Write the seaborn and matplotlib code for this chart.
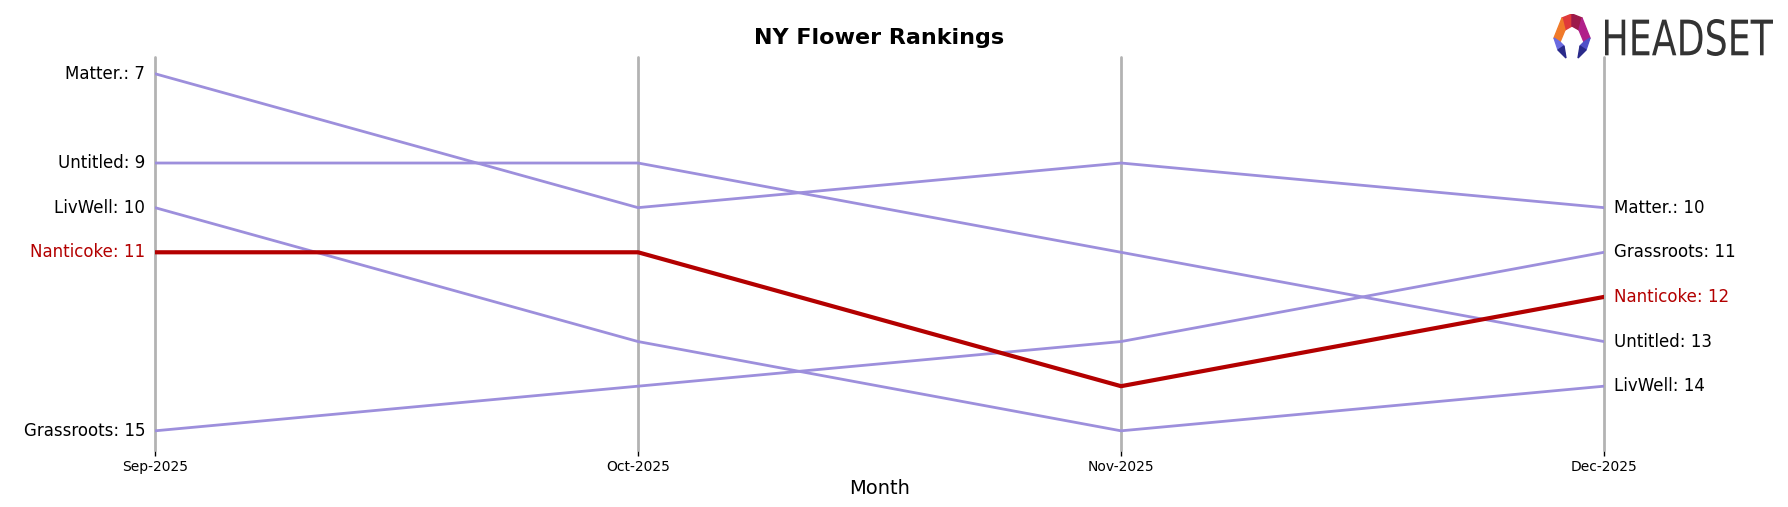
import numpy as np
import pandas as pd
import seaborn as sns
import matplotlib
matplotlib.use("Agg")
from matplotlib import pyplot as plt
from matplotlib.patches import Polygon, PathPatch
from matplotlib.textpath import TextPath
from matplotlib.font_manager import FontProperties
from matplotlib.transforms import Affine2D

# data
months = ["Sep-2025", "Oct-2025", "Nov-2025", "Dec-2025"]
brands = ["Matter.", "Untitled", "LivWell", "Nanticoke", "Grassroots"]
matter = [7, 10, 9, 10]
untitled = [9, 9, 11, 13]
livwell = [10, 13, 15, 14]
nanticoke = [11, 11, 14, 12]
grassroots = [15, 14, 13, 11]
highlight = "Nanticoke"

ranks = {"Matter.": matter, "Untitled": untitled, "LivWell": livwell,
         "Nanticoke": nanticoke, "Grassroots": grassroots}
rows = []
for b in brands:
    for i, m in enumerate(months):
        rows.append({"Brand": b, "Month": i, "Rank": ranks[b][i]})
df = pd.DataFrame(rows)

sns.set_style("white")
plt.rcParams["text.color"] = "black"
plt.rcParams["axes.labelcolor"] = "black"
plt.rcParams["xtick.color"] = "black"
fig = plt.figure(figsize=(17.88, 5.07), dpi=100)
ax = fig.add_axes([0.0867, 0.1124, 0.8104, 0.7756])

purple = "#9d8fdc"
red = "#b30000"
palette = {b: (red if b == highlight else purple) for b in brands}

for b in brands:
    sub = df[df.Brand == b]
    sns.lineplot(data=sub, x="Month", y="Rank", color=palette[b],
                 linewidth=3 if b == highlight else 2,
                 zorder=3 if b == highlight else 2, ax=ax, legend=False)

for i in range(len(months)):
    ax.axvline(i, color="#b3b3b3", linewidth=2, zorder=1, clip_on=False)

ax.set_xlim(0, 3)
ax.set_ylim(15.43, 6.62)
ax.set_xticks(range(len(months)))
ax.set_xticklabels(months, fontsize=10)
ax.tick_params(axis="x", length=4, width=1, color="black", direction="out", bottom=True)
ax.set_yticks([])
ax.set_ylabel("")
ax.set_xlabel("Month", fontsize=14, labelpad=3)
for s in ax.spines.values():
    s.set_visible(False)

for b in brands:
    c = red if b == highlight else "black"
    ax.annotate(f"{b}: {ranks[b][0]}", (0, ranks[b][0]), xytext=(-7, 0),
                textcoords="offset points", ha="right", va="center",
                fontsize=12, color=c)
    ax.annotate(f"{b}: {ranks[b][-1]}", (3, ranks[b][-1]), xytext=(7, 0),
                textcoords="offset points", ha="left", va="center",
                fontsize=12, color=c)

ax.set_title("NY Flower Rankings", fontsize=16, fontweight="bold", pad=9,
             color="black")

# logo icon
lax = fig.add_axes([1548 / 1788, 1 - 60 / 507, 48 / 1788, 46 / 507])
lax.set_xlim(0, 48)
lax.set_ylim(46, 0)
lax.axis("off")
polys = [
    ([(14, 4), (24, 0), (24, 12), (17, 16)], "#e03a3a"),
    ([(24, 0), (34, 4), (31, 16), (24, 12)], "#9c1a4a"),
    ([(14, 4), (17, 16), (12, 28), (6, 24)], "#f07a2a"),
    ([(34, 4), (42, 24), (36, 28), (31, 16)], "#b0208a"),
    ([(6, 24), (12, 28), (16, 32), (10, 36)], "#6a6ae0"),
    ([(42, 24), (36, 28), (32, 32), (38, 36)], "#5050c8"),
    ([(10, 36), (16, 32), (18, 44)], "#2a2a8a"),
    ([(38, 36), (32, 32), (30, 44)], "#2a2a8a"),
]
for pts, col in polys:
    lax.add_patch(Polygon(pts, closed=True, color=col))

# logo word, squeezed to a condensed look
tax = fig.add_axes([1604 / 1788, 1 - 57 / 507, 170 / 1788, 39 / 507])
tax.set_xlim(0, 170)
tax.set_ylim(0, 39)
tax.axis("off")
tp = TextPath((0, 0), "HEADSET", size=1, prop=FontProperties(family="DejaVu Sans"))
ext = tp.get_extents()
tr = (Affine2D().translate(-ext.x0, -ext.y0)
      .scale(168 / ext.width, 37 / ext.height).translate(1, 1))
tax.add_patch(PathPatch(tr.transform_path(tp), color="#333333", lw=0))

fig.savefig("out.png", dpi=100)
